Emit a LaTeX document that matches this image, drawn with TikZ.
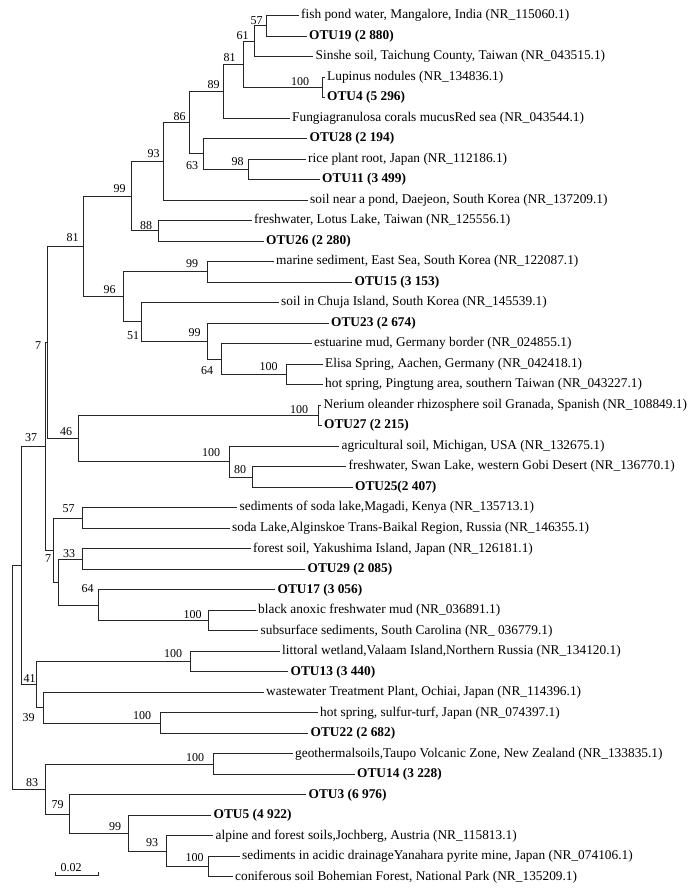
\documentclass[tikz,border=0pt]{standalone}
\usepackage{fontspec}
\setmainfont{Liberation Serif}
\begin{document}
\begin{tikzpicture}[x=1pt,y=-1pt,
  br/.style={line width=0.9pt, draw=black!85},
  leaf/.style={anchor=west, inner xsep=2.5pt, inner ysep=0pt, font=\fontsize{13.35}{14}\selectfont},
  otu/.style={leaf, font=\fontsize{13.35}{14}\selectfont\bfseries},
  bs/.style={inner sep=0pt, font=\fontsize{12}{13}\selectfont}]
\useasboundingbox (0,0) rectangle (700,888);
% leaves
\node[leaf] (l1) at (298.5,15.5) {fish pond water, Mangalore, India (NR\_115060.1)};
\node[otu]  (l2) at (306.5,36.0) {OTU19 (2 880)};
\node[leaf] (l3) at (313,56.5) {Sinshe soil, Taichung County, Taiwan (NR\_043515.1)};
\node[leaf] (l4) at (324.5,77.0) {Lupinus nodules (NR\_134836.1)};
\node[otu]  (l5) at (324.5,97.5) {OTU4 (5 296)};
\node[leaf] (l6) at (289.5,118.0) {Fungiagranulosa corals mucusRed sea (NR\_043544.1)};
\node[otu]  (l7) at (307,138.6) {OTU28 (2 194)};
\node[leaf] (l8) at (305.5,159.1) {rice plant root, Japan (NR\_112186.1)};
\node[otu]  (l9) at (319.5,179.6) {OTU11 (3 499)};
\node[leaf] (l10) at (307.5,200.1) {soil near a pond, Daejeon, South Korea (NR\_137209.1)};
\node[leaf] (l11) at (251.5,220.6) {freshwater, Lotus Lake, Taiwan (NR\_125556.1)};
\node[otu]  (l12) at (263.5,241.1) {OTU26 (2 280)};
\node[leaf] (l13) at (273.5,261.6) {marine sediment, East Sea, South Korea (NR\_122087.1)};
\node[otu]  (l14) at (352,282.1) {OTU15 (3 153)};
\node[leaf] (l15) at (278.5,302.6) {soil in Chuja Island, South Korea (NR\_145539.1)};
\node[otu]  (l16) at (328.5,323.2) {OTU23 (2 674)};
\node[leaf] (l17) at (311.5,343.7) {estuarine mud, Germany border (NR\_024855.1)};
\node[leaf] (l18) at (322.5,364.2) {Elisa Spring, Aachen, Germany (NR\_042418.1)};
\node[leaf] (l19) at (322.5,384.7) {hot spring, Pingtung area, southern Taiwan (NR\_043227.1)};
\node[leaf] (l20) at (321,405.2) {Nerium oleander rhizosphere soil Granada, Spanish (NR\_108849.1)};
\node[otu]  (l21) at (321.5,425.7) {OTU27 (2 215)};
\node[leaf] (l22) at (339,446.2) {agricultural soil, Michigan, USA (NR\_132675.1)};
\node[leaf] (l23) at (346,466.7) {freshwater, Swan Lake, western Gobi Desert (NR\_136770.1)};
\node[otu]  (l24) at (352.5,487.2) {OTU25(2 407)};
\node[leaf] (l25) at (237,507.7) {sediments of soda lake,Magadi, Kenya (NR\_135713.1)};
\node[leaf] (l26) at (229.5,528.3) {soda Lake,Alginskoe Trans-Baikal Region, Russia (NR\_146355.1)};
\node[leaf] (l27) at (250.5,548.8) {forest soil, Yakushima Island, Japan (NR\_126181.1)};
\node[otu]  (l28) at (305,569.3) {OTU29 (2 085)};
\node[otu]  (l29) at (275,589.8) {OTU17 (3 056)};
\node[leaf] (l30) at (255.5,610.3) {black anoxic freshwater mud (NR\_036891.1)};
\node[leaf] (l31) at (258,630.8) {subsurface sediments, South Carolina (NR\_ 036779.1)};
\node[leaf] (l32) at (279.5,651.3) {littoral wetland,Valaam Island,Northern Russia (NR\_134120.1)};
\node[otu]  (l33) at (288,671.8) {OTU13 (3 440)};
\node[leaf] (l34) at (263.5,692.3) {wastewater Treatment Plant, Ochiai, Japan (NR\_114396.1)};
\node[leaf] (l35) at (317.5,712.8) {hot spring, sulfur-turf, Japan (NR\_074397.1)};
\node[otu]  (l36) at (308,733.4) {OTU22 (2 682)};
\node[leaf] (l37) at (292.5,753.9) {geothermalsoils,Taupo Volcanic Zone, New Zealand (NR\_133835.1)};
\node[otu]  (l38) at (354.5,774.4) {OTU14 (3 228)};
\node[otu]  (l39) at (306,794.9) {OTU3 (6 976)};
\node[otu]  (l40) at (211,815.4) {OTU5 (4 922)};
\node[leaf] (l41) at (213,835.9) {alpine and forest soils,Jochberg, Austria (NR\_115813.1)};
\node[leaf] (l42) at (239.5,856.4) {sediments in acidic drainageYanahara pyrite mine, Japan (NR\_074106.1)};
\node[leaf] (l43) at (232.5,876.9) {coniferous soil Bohemian Forest, National Park (NR\_135209.1)};
% internal nodes
\coordinate (n57)   at (266,25.76);
\coordinate (n61)   at (254,41.14);
\coordinate (nL100) at (322,87.29);
\coordinate (n81b)  at (243,64.21);
\coordinate (n89)   at (223,91.13);
\coordinate (n98)   at (248,169.33);
\coordinate (n63)   at (203,153.94);
\coordinate (n86)   at (189,122.54);
\coordinate (n93)   at (163,161.31);
\coordinate (n88)   at (158,230.86);
\coordinate (n99a)  at (131,196.09);
\coordinate (n99b)  at (207,271.88);
\coordinate (nE100) at (286,374.43);
\coordinate (n64a)  at (221,359.04);
\coordinate (n99c)  at (207,341.10);
\coordinate (n51)   at (141,321.87);
\coordinate (n96)   at (123,296.88);
\coordinate (n81a)  at (83,246.48);
\coordinate (nN100) at (318.5,415.45);
\coordinate (n80)   at (252,476.98);
\coordinate (nA100) at (229,461.6);
\coordinate (n46)   at (78,438.52);
\coordinate (n7a)   at (47.7,342.5);
\coordinate (n57b)  at (82,518.0);
\coordinate (n33)   at (82,559.0);
\coordinate (nB100) at (208,620.55);
\coordinate (n64b)  at (98,605.17);
\coordinate (n58)   at (58,582.1);
\coordinate (n7b)   at (53,550.05);
\coordinate (nX37)  at (45,446.3);
\coordinate (nL2)   at (190,661.57);
\coordinate (nH100) at (160,723.1);
\coordinate (n39)   at (43,707.7);
\coordinate (n41)   at (36.7,684.6);
\coordinate (n37)   at (21,565.5);
\coordinate (nG100) at (213,764.1);
\coordinate (nS100) at (208,866.7);
\coordinate (n93b)  at (166,851.3);
\coordinate (n99d)  at (128,833.3);
\coordinate (n79)   at (69,814.1);
\coordinate (n83)   at (45,789.1);
\coordinate (root)  at (12.7,677.3);
% branches
\begin{scope}[br]
\draw (n57) |- (l1.west); \draw (n57) |- (l2.west);
\draw (n61) |- (n57); \draw (n61) |- (l3.west);
\draw (nL100) |- (l4.west); \draw (nL100) |- (l5.west);
\draw (n81b) |- (n61); \draw (n81b) |- (nL100);
\draw (n89) |- (n81b); \draw (n89) |- (l6.west);
\draw (n98) |- (l8.west); \draw (n98) |- (l9.west);
\draw (n63) |- (l7.west); \draw (n63) |- (n98);
\draw (n86) |- (n89); \draw (n86) |- (n63);
\draw (n93) |- (n86); \draw (n93) |- (l10.west);
\draw (n88) |- (l11.west); \draw (n88) |- (l12.west);
\draw (n99a) |- (n93); \draw (n99a) |- (n88);
\draw (n99b) |- (l13.west); \draw (n99b) |- (l14.west);
\draw (nE100) |- (l18.west); \draw (nE100) |- (l19.west);
\draw (n64a) |- (l17.west); \draw (n64a) |- (nE100);
\draw (n99c) |- (l16.west); \draw (n99c) |- (n64a);
\draw (n51) |- (l15.west); \draw (n51) |- (n99c);
\draw (n96) |- (n99b); \draw (n96) |- (n51);
\draw (n81a) |- (n99a); \draw (n81a) |- (n96);
\draw (nN100) |- (l20.west); \draw (nN100) |- (l21.west);
\draw (n80) |- (l23.west); \draw (n80) |- (l24.west);
\draw (nA100) |- (l22.west); \draw (nA100) |- (n80);
\draw (n46) |- (nN100); \draw (n46) |- (nA100);
\draw (n7a) |- (n81a); \draw (n7a) |- (n46);
\draw (n57b) |- (l25.west); \draw (n57b) |- (l26.west);
\draw (n33) |- (l27.west); \draw (n33) |- (l28.west);
\draw (nB100) |- (l30.west); \draw (nB100) |- (l31.west);
\draw (n64b) |- (l29.west); \draw (n64b) |- (nB100);
\draw (n58) |- (n33); \draw (n58) |- (n64b);
\draw (n7b) |- (n57b); \draw (n7b) |- (n58);
\draw (nX37) |- (n7a); \draw (nX37) |- (n7b);
\draw (nL2) |- (l32.west); \draw (nL2) |- (l33.west);
\draw (nH100) |- (l35.west); \draw (nH100) |- (l36.west);
\draw (n39) |- (l34.west); \draw (n39) |- (nH100);
\draw (n41) |- (nL2); \draw (n41) |- (n39);
\draw (n37) |- (nX37); \draw (n37) |- (n41);
\draw (nG100) |- (l37.west); \draw (nG100) |- (l38.west);
\draw (nS100) |- (l42.west); \draw (nS100) |- (l43.west);
\draw (n93b) |- (l41.west); \draw (n93b) |- (nS100);
\draw (n99d) |- (l40.west); \draw (n99d) |- (n93b);
\draw (n79) |- (l39.west); \draw (n79) |- (n99d);
\draw (n83) |- (nG100); \draw (n83) |- (n79);
\draw (root) |- (n37); \draw (root) |- (n83);
\end{scope}
% bootstrap values
\node[bs] (b1) at (256.5,20.5) {57};
\node[bs] (b2) at (242.5,36) {61};
\node[bs] (b3) at (229.5,58) {81};
\node[bs] (b4) at (300,82) {100};
\node[bs] (b5) at (213.5,85) {89};
\node[bs] (b6) at (179.5,117) {86};
\node[bs] (b7) at (192,166) {63};
\node[bs] (b8) at (237.5,162) {98};
\node[bs] (b9) at (153.5,154) {93};
\node[bs] (b10) at (119.5,189) {99};
\node[bs] (b11) at (146,226) {88};
\node[bs] (b12) at (72.5,238) {81};
\node[bs] (b13) at (192,263.5) {99};
\node[bs] (b14) at (109.5,290) {96};
\node[bs] (b15) at (133,336) {51};
\node[bs] (b16) at (194.5,333) {99};
\node[bs] (b17) at (207,370.5) {64};
\node[bs] (b18) at (268.5,367) {100};
\node[bs] (b19) at (38,345.5) {7};
\node[bs] (b20) at (299,410) {100};
\node[bs] (b21) at (66,431.5) {46};
\node[bs] (b22) at (31,438) {37};
\node[bs] (b23) at (211,453) {100};
\node[bs] (b24) at (240,470) {80};
\node[bs] (b25) at (68.5,509) {57};
\node[bs] (b26) at (69,554) {33};
\node[bs] (b27) at (48,559) {7};
\node[bs] (b28) at (87.5,589) {64};
\node[bs] (b29) at (192.5,615) {100};
\node[bs] (b30) at (173,654) {100};
\node[bs] (b31) at (29.5,679) {41};
\node[bs] (b32) at (28.5,718) {39};
\node[bs] (b33) at (142,716) {100};
\node[bs] (b34) at (195,758) {100};
\node[bs] (b35) at (32,783) {83};
\node[bs] (b36) at (57.5,805) {79};
\node[bs] (b37) at (115,826.5) {99};
\node[bs] (b38) at (152,843) {93};
\node[bs] (b39) at (194.5,858) {100};
% scale bar
\coordinate (sb1) at (55,875);
\coordinate (sb2) at (98.3,875);
\draw[br] ([yshift=3.5pt]sb1) -- (sb1) -- (sb2) -- ([yshift=3.5pt]sb2);
\node[bs] (sbl) at (71,867.5) {0.02};
\end{tikzpicture}
\end{document}
